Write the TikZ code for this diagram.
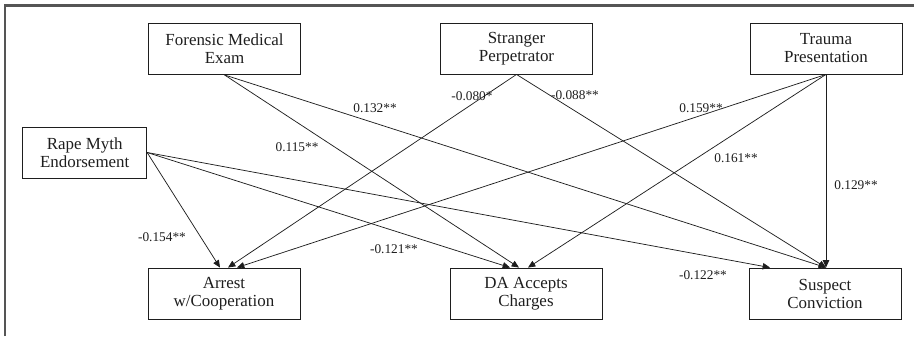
\documentclass[tikz,border=0pt]{standalone}
\usepackage{fontspec}
\setmainfont{Liberation Serif}
\usepackage{xcolor}
\definecolor{frame}{RGB}{85, 85, 85}
\definecolor{ink}{RGB}{30, 30, 30}
\usepackage{tikz}
\usetikzlibrary{calc,arrows.meta}

\begin{document}
\begin{tikzpicture}[x=0.75pt, y=-0.75pt,
    var/.style={draw=ink, line width=0.65pt, minimum width=114pt, minimum height=38.25pt,
        align=center, inner sep=0pt, font=\fontsize{12.7}{13.5}\selectfont, text=ink},
    path/.style={draw=ink, line width=0.55pt, -{Triangle[length=5.5pt, width=4.8pt]}},
    coef/.style={font=\fontsize{10}{12}\selectfont, text=ink, inner sep=0pt}]
    \useasboundingbox (0,0) rectangle (914,336);
    % Frame (cut at right and bottom)
    \draw[frame, line width=1.6pt] (5,336) -- (5,5.5) -- (914,5.5);

    % Predictors
    \node[var] (fme) at (224.5, 49) {Forensic Medical\\Exam};
    \node[var] (spp) at (516.5, 48.5) {Stranger\\Perpetrator};
    \node[var] (tp) at (826, 48.5) {Trauma\\Presentation};
    \node[var, minimum width=93pt] (rme) at (84.7, 152.5) {Rape Myth\\Endorsement};

    % Outcomes
    \node[var] (arr) at (224, 293.5) {Arrest\\w/Cooperation};
    \node[var] (da) at (526, 293.5) {DA Accepts\\Charges};
    \node[var] (sc) at (825, 293.5) {Suspect\\Conviction};

    % Paths into Arrest
    \draw[path] (rme.east) -- ($(arr.north)+(-4,0)$);
    \draw[path] (spp.south) -- ($(arr.north)+(4,0)$);
    \draw[path] (tp.south) -- ($(arr.north)+(13,0)$);
    % Paths into DA
    \draw[path] (rme.east) -- ($(da.north)+(-16,0)$);
    \draw[path] (fme.south) -- ($(da.north)+(-7,0)$);
    \draw[path] (tp.south) -- ($(da.north)+(2,0)$);
    % Paths into Conviction
    \draw[path] (rme.east) -- ($(sc.north)+(-55,0)$);
    \draw[path] (fme.south) -- ($(sc.north)+(1,0)$);
    \draw[path] (spp.south) -- ($(sc.north)+(1,0)$);
    \draw[path] (tp.south) -- ($(sc.north)+(1,0)$);

    % Coefficients
    \node[coef] (c132) at (375, 108) {0.132**};
    \node[coef] (c115) at (297, 147) {0.115**};
    \node[coef] (c080) at (472, 96) {-0.080*};
    \node[coef] (c088) at (575, 95) {-0.088**};
    \node[coef] (c159) at (701, 108) {0.159**};
    \node[coef] (c161) at (736, 158) {0.161**};
    \node[coef] (c129) at (856, 185) {0.129**};
    \node[coef] (c154) at (162, 237) {-0.154**};
    \node[coef] (c121) at (394, 249) {-0.121**};
    \node[coef] (c122) at (703, 275) {-0.122**};
\end{tikzpicture}
\end{document}
